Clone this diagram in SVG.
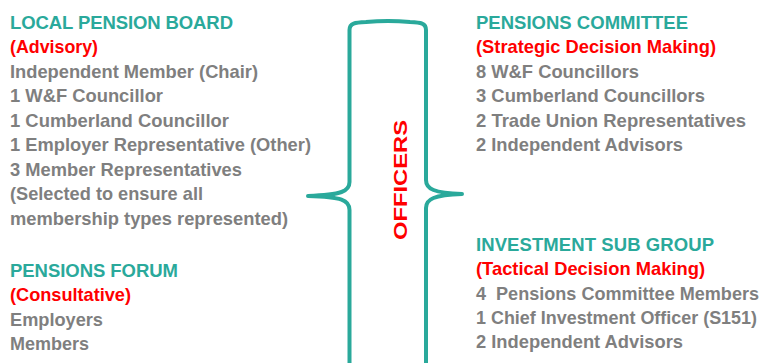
<svg xmlns="http://www.w3.org/2000/svg" width="764" height="363" viewBox="0 0 764 363">
  <style>
    text { font-family: "Liberation Sans", Arial, sans-serif; font-weight: bold; font-size: 18.5px; }
    .head { fill: #2aa99b; }
    .role { fill: #ff0000; }
    .item { fill: #7f7f7f; }
    .narrow { font-size: 17.6px; }
    .brace { fill: none; stroke: #2aa99b; stroke-width: 4; stroke-linecap: round; stroke-linejoin: round; }
  </style>
  <rect width="764" height="363" fill="#ffffff"/>

  <g id="local-pension-board">
    <text class="head" x="10" y="29" textLength="223" lengthAdjust="spacing">LOCAL PENSION BOARD</text>
    <text class="role" x="10" y="53" textLength="88" lengthAdjust="spacingAndGlyphs">(Advisory)</text>
    <text class="item" x="10" y="78" textLength="248" lengthAdjust="spacingAndGlyphs">Independent Member (Chair)</text>
    <text class="item" x="10" y="102" textLength="153" lengthAdjust="spacingAndGlyphs">1 W&amp;F Councillor</text>
    <text class="item" x="10" y="127" textLength="219" lengthAdjust="spacingAndGlyphs">1 Cumberland Councillor</text>
    <text class="item" x="10" y="151" textLength="301" lengthAdjust="spacingAndGlyphs">1 Employer Representative (Other)</text>
    <text class="item" x="10" y="176" textLength="232" lengthAdjust="spacingAndGlyphs">3 Member Representatives</text>
    <text class="item" x="10" y="200" textLength="193" lengthAdjust="spacingAndGlyphs">(Selected to ensure all</text>
    <text class="item" x="10" y="225" textLength="278" lengthAdjust="spacingAndGlyphs">membership types represented)</text>
  </g>

  <g id="pensions-forum">
    <text class="head" x="10" y="277" textLength="168" lengthAdjust="spacing">PENSIONS FORUM</text>
    <text class="role" x="10" y="301" textLength="121" lengthAdjust="spacingAndGlyphs">(Consultative)</text>
    <text class="item" x="10" y="326" textLength="93" lengthAdjust="spacingAndGlyphs">Employers</text>
    <text class="item" x="10" y="350" textLength="79" lengthAdjust="spacingAndGlyphs">Members</text>
  </g>

  <g id="pensions-committee">
    <text class="head" x="476" y="29" textLength="212" lengthAdjust="spacing">PENSIONS COMMITTEE</text>
    <text class="role" x="476" y="53" textLength="240" lengthAdjust="spacingAndGlyphs">(Strategic Decision Making)</text>
    <text class="item" x="476" y="78" textLength="163" lengthAdjust="spacingAndGlyphs">8 W&amp;F Councillors</text>
    <text class="item" x="476" y="102" textLength="229" lengthAdjust="spacingAndGlyphs">3 Cumberland Councillors</text>
    <text class="item" x="476" y="127" textLength="270" lengthAdjust="spacingAndGlyphs">2 Trade Union Representatives</text>
    <text class="item" x="476" y="151" textLength="207" lengthAdjust="spacingAndGlyphs">2 Independent Advisors</text>
  </g>

  <g id="investment-sub-group">
    <text class="head" x="476" y="251" textLength="238" lengthAdjust="spacing">INVESTMENT SUB GROUP</text>
    <text class="role" x="476" y="275" textLength="229" lengthAdjust="spacingAndGlyphs">(Tactical Decision Making)</text>
    <text class="item narrow" x="476" y="300" textLength="283" lengthAdjust="spacingAndGlyphs" xml:space="preserve">4  Pensions Committee Members</text>
    <text class="item narrow" x="476" y="324" textLength="281" lengthAdjust="spacingAndGlyphs">1 Chief Investment Officer (S151)</text>
    <text class="item" x="476" y="348" textLength="207" lengthAdjust="spacingAndGlyphs">2 Independent Advisors</text>
  </g>

  <g id="officers">
    <path class="brace" d="M349.5,365 V210 C349.5,200 342,197 308,196 C342,195 349.5,191 349.5,182 V30 C349.5,23 355,22.5 366,22 Q388,20 410,22 C421,22.5 426,23 426,30 V180 C426,189 434,193 462,194 C434,195 426,199 426,208 V365"/>
    <text class="role" transform="translate(407,180) rotate(-90)" text-anchor="middle" font-size="25" textLength="120" lengthAdjust="spacingAndGlyphs">OFFICERS</text>
  </g>
</svg>
